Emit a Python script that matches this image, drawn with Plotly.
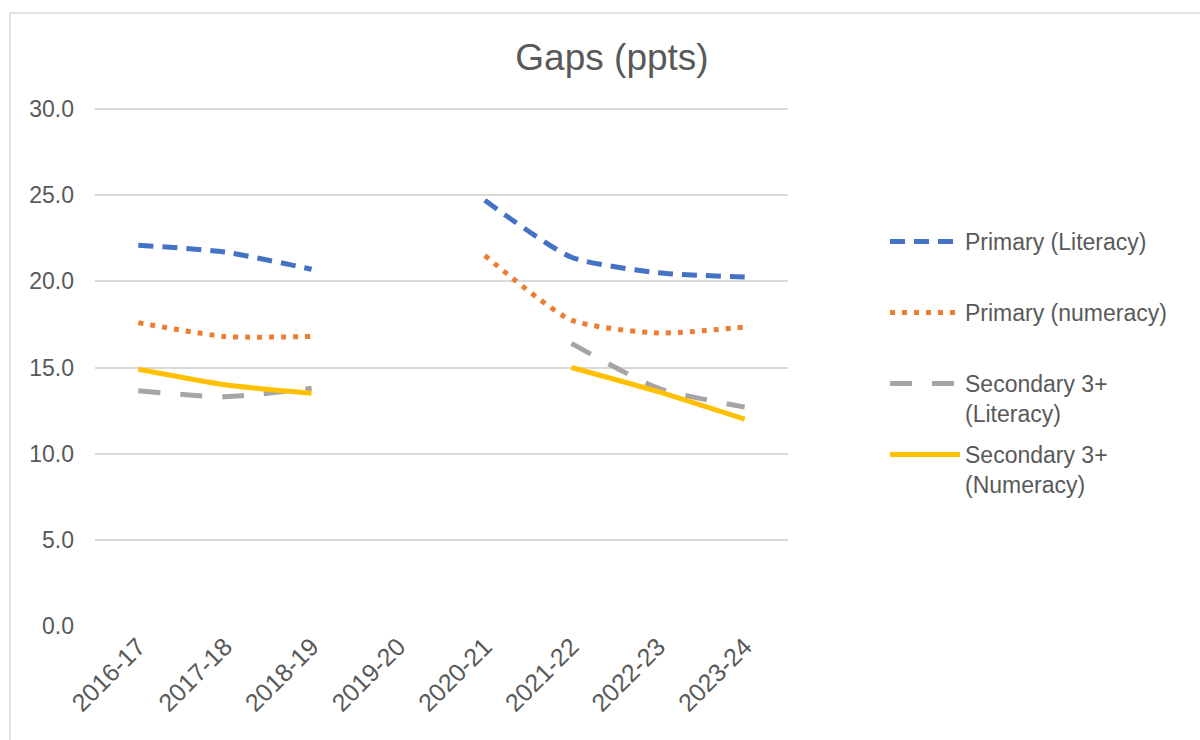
import plotly.graph_objects as go

# Academic years on the category axis
years = ["2016-17", "2017-18", "2018-19", "2019-20", "2020-21", "2021-22", "2022-23", "2023-24"]

# Attainment gaps in percentage points (None = no data that year)
primary_literacy = [22.1, 21.7, 20.7, None, 24.7, 21.4, 20.5, 20.25]
primary_numeracy = [17.6, 16.8, 16.8, None, 21.5, 17.75, 17.0, 17.35]
secondary_literacy = [13.65, 13.3, 13.8, None, None, 16.4, 13.8, 12.7]
secondary_numeracy = [14.9, 14.0, 13.5, None, None, 15.0, 13.6, 12.0]

y_ticks = [0, 5, 10, 15, 20, 25, 30]

FONT = "Liberation Sans, Arial, sans-serif"
TEXT = "#595959"
GRID = "#D9D9D9"

# Plot-area geometry in pixels (used to place legends and the chart border)
W, H = 1200, 740
L, R, B = 95, 788, 626
Y30 = 109                 # pixel row of the 30.0 gridline
T = Y30 - 4               # a few pixels of headroom so the top gridline is kept
Y_MAX = 30 * (B - T) / (B - Y30)


def px_x(px):
    return (px - L) / (R - L)


def px_y(py):
    return (B - py) / (B - T)


series = [
    ("Primary (Literacy)", primary_literacy, "#4472C4", "15px,9px", "legend"),
    ("Primary (numeracy)", primary_numeracy, "#ED7D31", "5px,7px", "legend2"),
    ("Secondary 3+<br>(Literacy)", secondary_literacy, "#A5A5A5", "22px,20px", "legend3"),
    ("Secondary 3+<br>(Numeracy)", secondary_numeracy, "#FFC000", "solid", "legend4"),
]

fig = go.Figure()
for name, vals, color, dash, leg in series:
    fig.add_trace(go.Scatter(
        x=years, y=vals, name=name, mode="lines",
        line=dict(color=color, width=5, dash=dash, shape="spline", smoothing=0.6),
        connectgaps=False, legend=leg, showlegend=True,
    ))

legend_common = dict(
    xanchor="left", yanchor="top", x=px_x(885),
    font=dict(family=FONT, size=23, color=TEXT),
    bgcolor="rgba(0,0,0,0)", itemwidth=70, valign="top",
)
legend_tops = [220, 291, 362, 433]

fig.update_layout(
    width=W, height=H, showlegend=True,
    margin=dict(l=L, r=W - R, t=T, b=H - B),
    paper_bgcolor="white", plot_bgcolor="white",
    font=dict(family=FONT, color=TEXT, size=23),
    title=dict(
        text="Gaps (ppts)", x=612 / W, y=1 - 57 / H, xref="container", yref="container",
        xanchor="center", yanchor="middle",
        font=dict(family=FONT, size=37, color=TEXT),
    ),
    xaxis=dict(
        type="category", categoryorder="array", categoryarray=years,
        range=[-0.5, len(years) - 0.5],
        showgrid=False, showline=False, zeroline=False, ticks="",
        tickangle=-45, tickfont=dict(family=FONT, size=25, color=TEXT),
    ),
    yaxis=dict(
        range=[0, Y_MAX], tickvals=y_ticks, tickformat=".1f",
        showgrid=True, gridcolor=GRID, gridwidth=1.5, zeroline=False, showline=False,
        ticks="", ticklabelstandoff=20,
        tickfont=dict(family=FONT, size=23, color=TEXT),
    ),
    legend=dict(legend_common, y=px_y(legend_tops[0])),
    legend2=dict(legend_common, y=px_y(legend_tops[1])),
    legend3=dict(legend_common, y=px_y(legend_tops[2])),
    legend4=dict(legend_common, y=px_y(legend_tops[3])),
    shapes=[dict(
        type="rect", xref="paper", yref="paper", layer="below",
        x0=px_x(10), x1=px_x(1210), y0=px_y(750), y1=px_y(13),
        line=dict(color=GRID, width=1.5), fillcolor="rgba(0,0,0,0)",
    )],
)

fig.write_html("out.html")
